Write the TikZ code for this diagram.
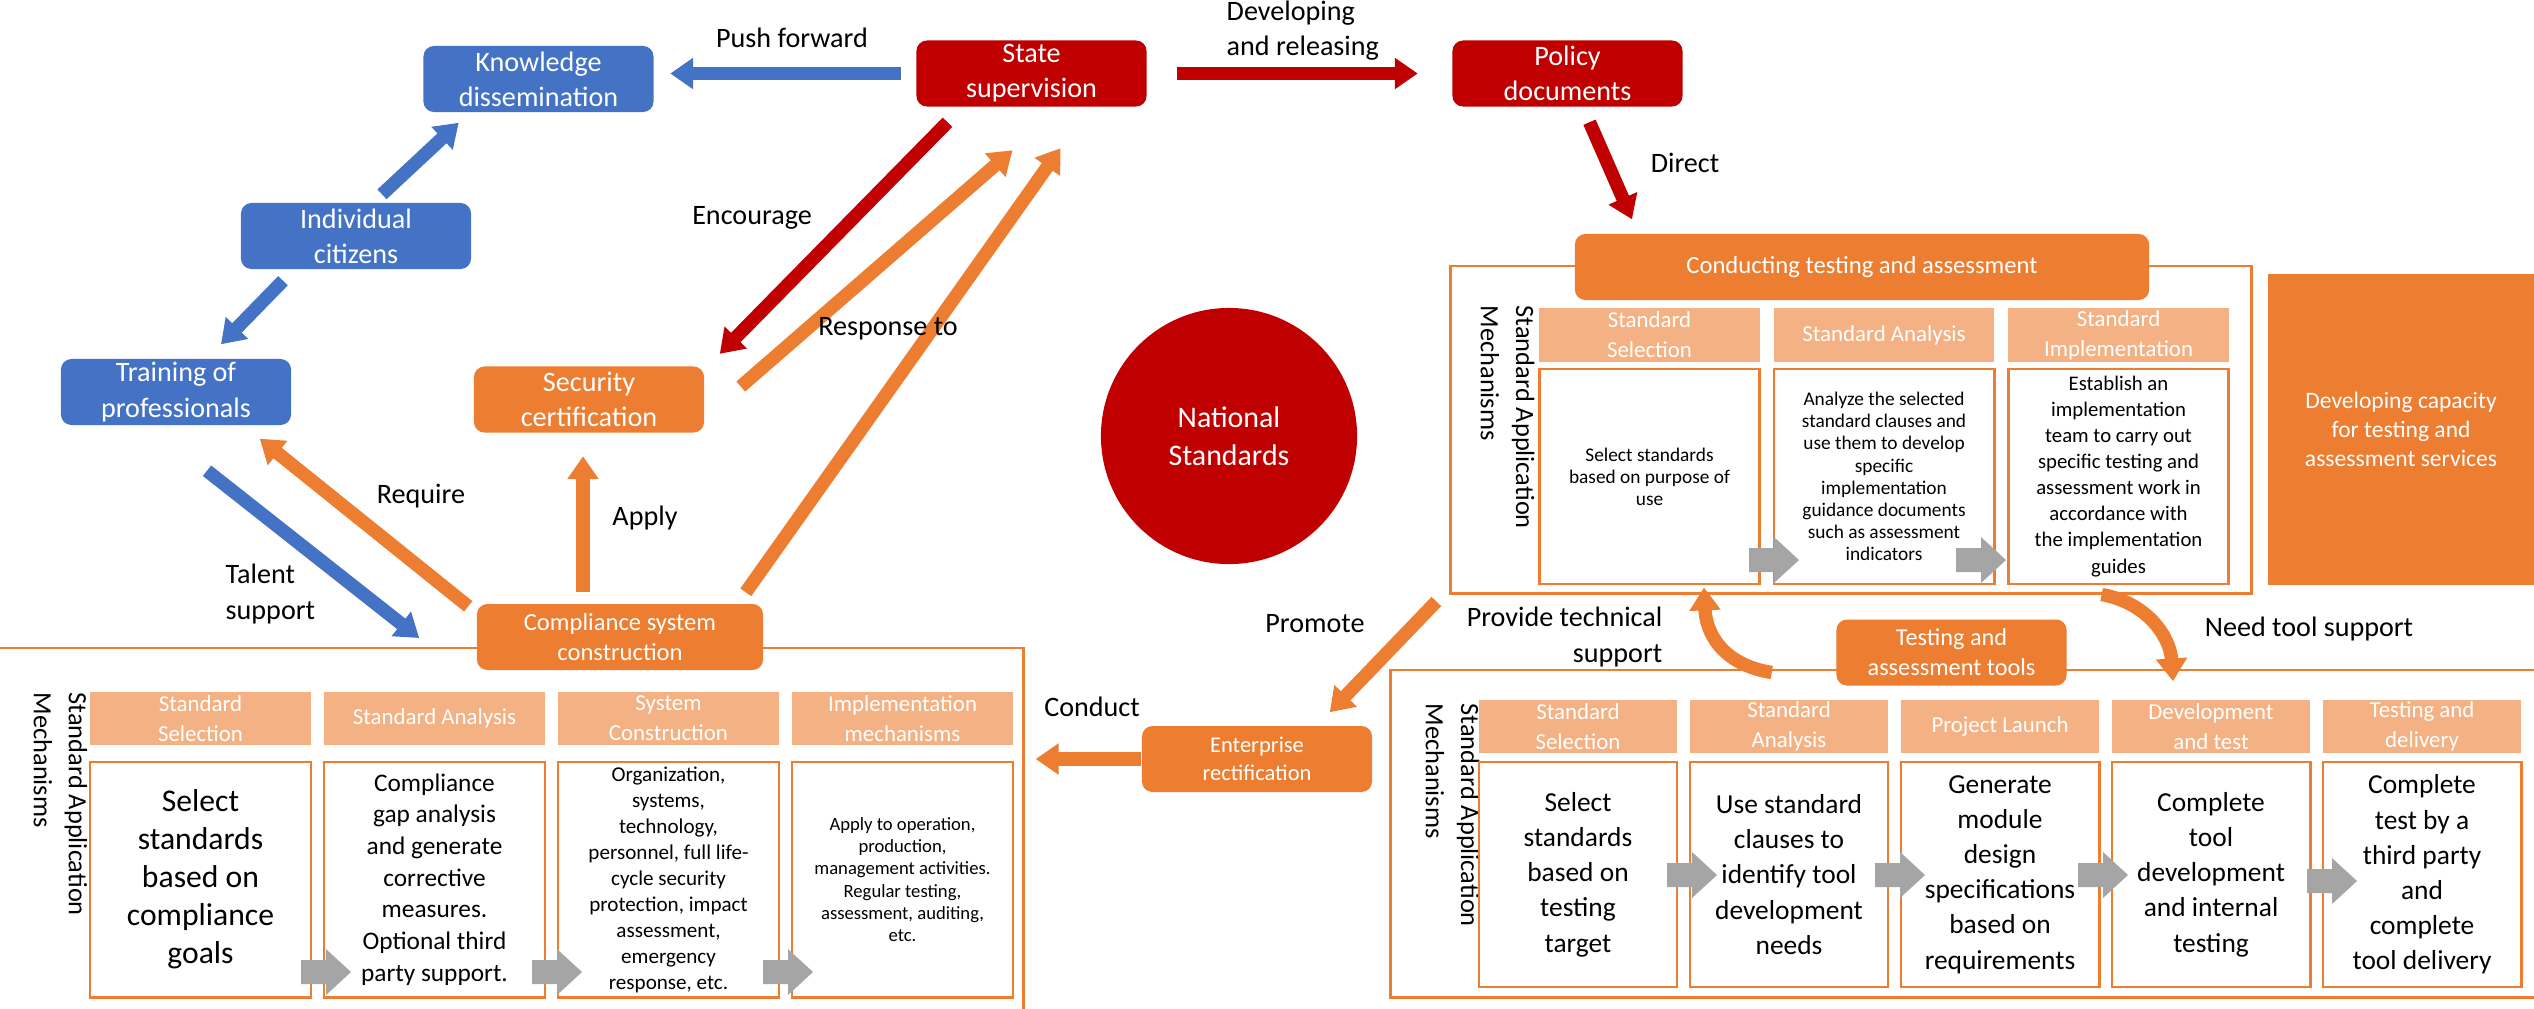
\documentclass[tikz,border=0pt]{standalone}
\usepackage{fontspec}
\setmainfont{Carlito}
\usepackage{tikz}
\usetikzlibrary{arrows.meta}
\usetikzlibrary{calc}

\definecolor{ppblue}{HTML}{4472C4}
\definecolor{pporange}{HTML}{ED7D31}
\definecolor{ppred}{HTML}{C00000}
\definecolor{pplight}{HTML}{F4B183}
\definecolor{ppgray}{HTML}{A5A5A5}

\tikzset{
  pbox/.style={rounded corners=3pt, text=white, align=center, inner sep=0pt,
    minimum width=2.3cm, minimum height=0.66cm, font=\fontsize{8}{10}\selectfont},
  bluebox/.style={pbox, fill=ppblue},
  redbox/.style={pbox, fill=ppred},
  orangebox/.style={pbox, fill=pporange},
  cellhead/.style={fill=pplight, text=white, align=center, inner sep=0pt,
    font=\fontsize{6.5}{8.5}\selectfont},
  cellbody/.style={draw=pporange, line width=0.8pt, fill=white, align=center, inner sep=0pt},
  outerframe/.style={draw=pporange, line width=0.8pt, inner sep=0pt},
  lbl/.style={font=\fontsize{8}{10}\selectfont, align=center, inner sep=0pt},
  vlbl/.style={rotate=-90, anchor=north west, align=left, inner sep=0pt,
    font=\fontsize{7.5}{10}\selectfont},
  fat/.style={line width=3.8pt, -{Triangle[width=8.5pt,length=6.5pt]}}
}

\begin{document}
\begin{tikzpicture}[x=0.01cm,y=-0.01cm]
\useasboundingbox (0,0) rectangle (2534,1008);

% frames
\node[outerframe, minimum width=8cm, minimum height=3.27cm] (trframe) at (1851,429.5) {};
\node[outerframe, minimum width=10.33cm, minimum height=3.67cm] (blframe) at (506.5,831.5) {};
\node[outerframe, minimum width=11.54cm, minimum height=3.27cm] (brframe) at (1968,833.5) {};

\node[vlbl] (trmech) at (1535,305) {Standard Application\\Mechanisms};
\node[vlbl] (blmech) at (88,692) {Standard Application\\Mechanisms};
\node[vlbl] (brmech) at (1480,703) {Standard Application\\Mechanisms};

% testing and assessment cells
\foreach \t [count=\i] in {{Standard\\Selection},{Standard Analysis},{Standard\\Implementation}}
  \node[cellhead, minimum width=2.2cm, minimum height=0.54cm] (trhead\i) at ({1649.5+234.5*(\i-1)},335) {\t};
\node[cellbody, minimum width=2.2cm, minimum height=2.15cm, font=\fontsize{5.5}{6.3}\selectfont]
  (trbody1) at (1649.5,476.5) {Select standards\\based on purpose of\\use};
\node[cellbody, minimum width=2.2cm, minimum height=2.15cm, font=\fontsize{5.5}{6.3}\selectfont]
  (trbody2) at (1884,476.5) {Analyze the selected\\standard clauses and\\use them to develop\\specific\\implementation\\guidance documents\\such as assessment\\indicators};
\node[cellbody, minimum width=2.2cm, minimum height=2.15cm, font=\fontsize{5.9}{7.4}\selectfont]
  (trbody3) at (2118.5,476.5) {Establish an\\implementation\\team to carry out\\specific testing and\\assessment work in\\accordance with\\the implementation\\guides};

% compliance cells
\foreach \t [count=\i] in {{Standard\\Selection},{Standard Analysis},{System\\Construction},{Implementation\\mechanisms}}
  \node[cellhead, minimum width=2.21cm, minimum height=0.53cm] (blhead\i) at ({200.5+234*(\i-1)},718.5) {\t};
\node[cellbody, minimum width=2.21cm, minimum height=2.35cm, font=\fontsize{9}{10.8}\selectfont]
  (blbody1) at (200.5,879.5) {Select\\standards\\based on\\compliance\\goals};
\node[cellbody, minimum width=2.21cm, minimum height=2.35cm, font=\fontsize{7.2}{9}\selectfont]
  (blbody2) at (434.5,879.5) {Compliance\\gap analysis\\and generate\\corrective\\measures.\\Optional third\\party support.};
\node[cellbody, minimum width=2.21cm, minimum height=2.35cm, font=\fontsize{6}{7.4}\selectfont]
  (blbody3) at (668.5,879.5) {Organization,\\systems,\\technology,\\personnel, full life-\\cycle security\\protection, impact\\assessment,\\emergency\\response, etc.};
\node[cellbody, minimum width=2.21cm, minimum height=2.35cm, font=\fontsize{5.3}{6.3}\selectfont]
  (blbody4) at (902.5,879.5) {Apply to operation,\\production,\\management activities.\\Regular testing,\\assessment, auditing,\\etc.};

% tool cells
\foreach \t [count=\i] in {{Standard\\Selection},{Standard\\Analysis},{Project Launch},{Development\\and test},{Testing and\\delivery}}
  \node[cellhead, minimum width=1.98cm, minimum height=0.53cm] (brhead\i) at ({1578+211*(\i-1)},726.5) {\t};
\foreach \t [count=\i] in {{Select\\standards\\based on\\testing\\target},
    {Use standard\\clauses to\\identify tool\\development\\needs},
    {Generate\\module\\design\\specifications\\based on\\requirements},
    {Complete\\tool\\development\\and internal\\testing},
    {Complete\\test by a\\third party\\and\\complete\\tool delivery}}
  \node[cellbody, minimum width=1.98cm, minimum height=2.25cm, font=\fontsize{7.8}{10}\selectfont]
    (brbody\i) at ({1578+211*(\i-1)},874.5) {\t};

% gray step arrows
\foreach \cx/\cy in {326/972, 557/972, 788/972, 1692/875, 1900/875, 2103/875, 2332/881, 1774/560, 1981/560}
  \fill[ppgray, shift={(\cx,\cy)}] (-25,-12) -- (0,-12) -- (0,-23) -- (25,0) -- (0,23) -- (0,12) -- (-25,12) -- cycle;

\node[circle, fill=ppred, text=white, minimum size=2.56cm, align=center,
  font=\fontsize{8.5}{10.8}\selectfont] (natstd) at (1229,436) {National\\Standards};
\node[fill=pporange, text=white, minimum width=2.66cm, minimum height=3.11cm, align=center,
  font=\fontsize{6.7}{8.3}\selectfont] (capacity) at (2401,429.5) {Developing capacity\\for testing and\\assessment services};

% rounded boxes
\node[bluebox] (know) at (538.5,79) {Knowledge\\dissemination};
\node[redbox] (state) at (1031.5,73.5) {State\\supervision};
\node[redbox] (policy) at (1567.5,73.5) {Policy\\documents};
\node[bluebox] (cit) at (356,236) {Individual\\citizens};
\node[bluebox] (train) at (176,392) {Training of\\professionals};
\node[orangebox] (sec) at (589,399.5) {Security\\certification};
\node[orangebox, minimum width=2.86cm, font=\fontsize{7}{8.3}\selectfont] (comp) at (620,637) {Compliance system\\construction};
\node[orangebox, font=\fontsize{6.4}{8}\selectfont] (ent) at (1257,759) {Enterprise\\rectification};
\node[orangebox, font=\fontsize{6.9}{8.5}\selectfont] (tools) at (1951.5,652.5) {Testing and\\assessment tools};
\node[orangebox, minimum width=5.74cm, font=\fontsize{7}{8.5}\selectfont] (conduct) at (1862,267) {Conducting testing and assessment};

% arrows
\draw[fat, ppblue, shorten <=0.15cm, shorten >=0.16cm] (state.west) -- (know.east |- state.west);
\draw[fat, ppred, shorten <=0.3cm, shorten >=0.34cm] (state.east) -- (policy.west);
\draw[fat, ppred] ($(policy.south)+(22,15)$) -- ($(conduct.north)+(-230,-14)$);
\draw[fat, ppblue] ($(cit.north)+(26,-8)$) -- ($(know.south west)+(36,10)$);
\draw[fat, ppblue] ($(cit.south)+(-73,11)$) -- ($(train.north)+(45,-14)$);
\draw[fat, ppred] ($(state.south)+(-84,15)$) -- ($(sec.north east)+(15,-12)$);
\draw[fat, pporange] ($(sec.east)+(36,-13)$) -- ($(state.south)+(-19,43)$);
\draw[fat, pporange] ($(comp.north east)+(-18,-11)$) -- ($(state.south)+(29,41)$);
\draw[fat, pporange] ($(comp.north)+(-37,-11)$) -- ($(sec.south)+(-6,23)$);
\draw[fat, pporange] ($(comp.north west)+(-8,3)$) -- ($(train.south east)+(-32,13)$);
\draw[fat, ppblue] ($(train.south)+(31,45)$) -- ($(comp.west)+(-57,1)$);
\draw[fat, pporange, shorten >=0.11cm] (ent.west) -- (ent.west -| blframe.east);
\draw[fat, pporange] ($(trframe.south west)+(-13,7)$) -- ($(ent.north east)+(-43,-13)$);
\draw[fat, pporange] ($(tools.west)+(-64,20)$) .. controls +(-50,-8) and +(2,45) .. ($(trbody1.south east)+(-57,2)$);
\draw[fat, pporange] ($(trframe.south east)+(-151,0)$) .. controls +(45,8) and +(-3,-45) .. ($(brhead4.north)+(-38,-18)$);

% labels
\node[lbl] (lpush) at (792,38) {Push forward};
\node[lbl, align=left, anchor=west] (ldev) at (1226,31) {Developing\\and releasing};
\node[lbl] (ldirect) at (1685,163) {Direct};
\node[lbl] (lenc) at (752,218) {Encourage};
\node[lbl] (lresp) at (888,329) {Response to};
\node[lbl] (lapply) at (645,518) {Apply};
\node[lbl] (lreq) at (421,496) {Require};
\node[lbl, align=left, anchor=west] (ltalent) at (225,594) {Talent\\support};
\node[lbl] (lconduct) at (1092,707) {Conduct};
\node[lbl] (lpromote) at (1315,624) {Promote};
\node[lbl, align=right, anchor=east] (ltech) at (1663,637) {Provide technical\\support};
\node[lbl] (lneed) at (2309,629) {Need tool support};

\end{tikzpicture}
\end{document}
